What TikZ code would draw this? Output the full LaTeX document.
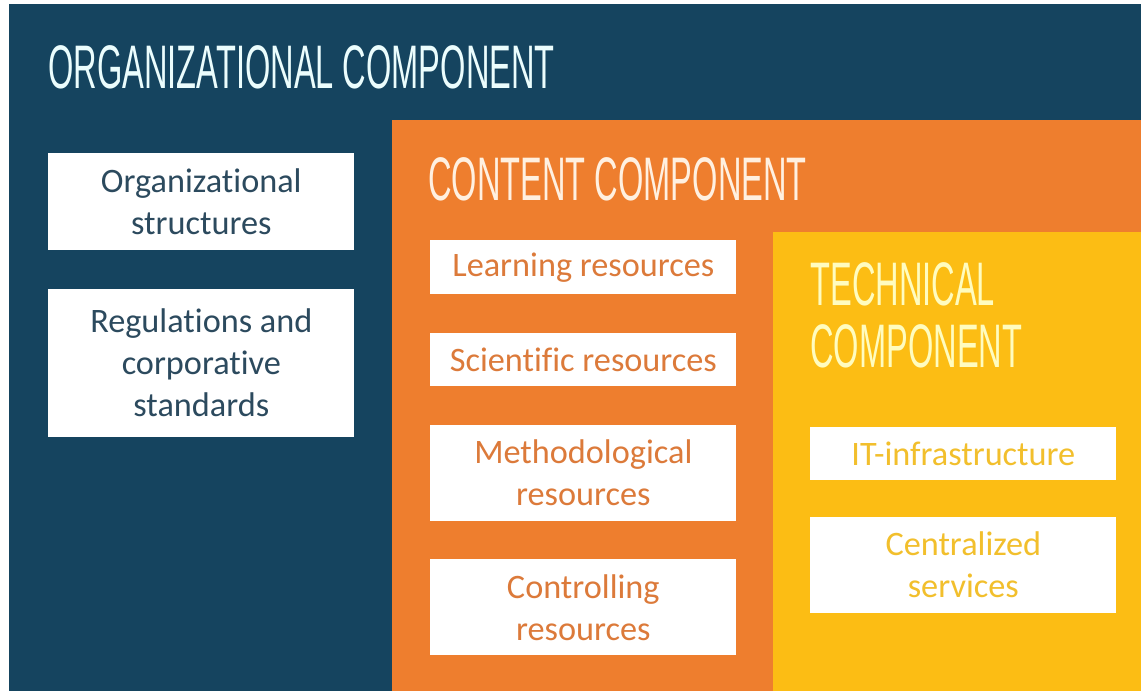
\documentclass[tikz,border=0pt]{standalone}
\usepackage{fontspec}
\setmainfont{Carlito}[Ligatures=NoCommon]
\newfontfamily\headfont[FakeStretch=0.53]{Liberation Sans}
\usetikzlibrary{positioning}

\definecolor{orgblue}{HTML}{15445F}
\definecolor{contorange}{HTML}{EE7E2E}
\definecolor{techyellow}{HTML}{FCBD14}
\definecolor{orgtext}{HTML}{2C4A5E}
\definecolor{conttext}{HTML}{DC7A3A}
\definecolor{techtext}{HTML}{F2BF2C}

\begin{document}
\begin{tikzpicture}[x=0.02cm, y=-0.02cm, node distance=0.76cm,
			panel/.style={rectangle, anchor=north west, inner sep=0},
			box/.style={rectangle, fill=white, minimum width=6.12cm, inner sep=0, align=center, font=\fontsize{19.5}{24}\selectfont},
			head/.style={anchor=base west, inner sep=0, align=left, font=\headfont\fontsize{35}{35}\selectfont}]
			\useasboundingbox (0,0) rectangle (1141,691);
			% the three nested panels
			\node[panel, fill=orgblue, minimum width=22.64cm, minimum height=13.74cm] (orgpanel) at (9,4) {};
			\node[panel, fill=contorange, minimum width=14.98cm, minimum height=11.42cm] (contpanel) at (392,120) {};
			\node[panel, fill=techyellow, minimum width=7.36cm, minimum height=9.18cm] (techpanel) at (773,232) {};
			
			\node[head, text=orgtext!15!cyan!8!white] (orghead) at (48,88) {ORGANIZATIONAL COMPONENT};
			\node[head, text=orange!12!white] (conthead) at (428,200) {CONTENT COMPONENT};
			\node[head, text=yellow!25!white] (techhead) at (810,367) {TECHNICAL\\COMPONENT};
			
			\node[box, text=orgtext, anchor=north west, minimum height=1.94cm] (orgstruct) at (48,153) {Organizational\\structures};
			\node[box, text=orgtext, minimum height=2.96cm, below=of orgstruct] (regs) {Regulations and\\corporative\\standards};
			
			\node[box, text=conttext, anchor=north west, minimum height=1.08cm] (learning) at (430,240) {Learning resources};
			\node[box, text=conttext, minimum height=1.06cm, below=of learning] (scientific) {Scientific resources};
			\node[box, text=conttext, minimum height=1.92cm, below=of scientific] (method) {Methodological\\resources};
			\node[box, text=conttext, minimum height=1.92cm, below=of method] (control) {Controlling\\resources};
			
			\node[box, text=techtext, anchor=north west, minimum height=1.06cm] (itinfra) at (810,427) {IT-infrastructure};
			\node[box, text=techtext, minimum height=1.92cm, below=0.72cm of itinfra] (central) {Centralized\\services};
		\end{tikzpicture}
\end{document}
